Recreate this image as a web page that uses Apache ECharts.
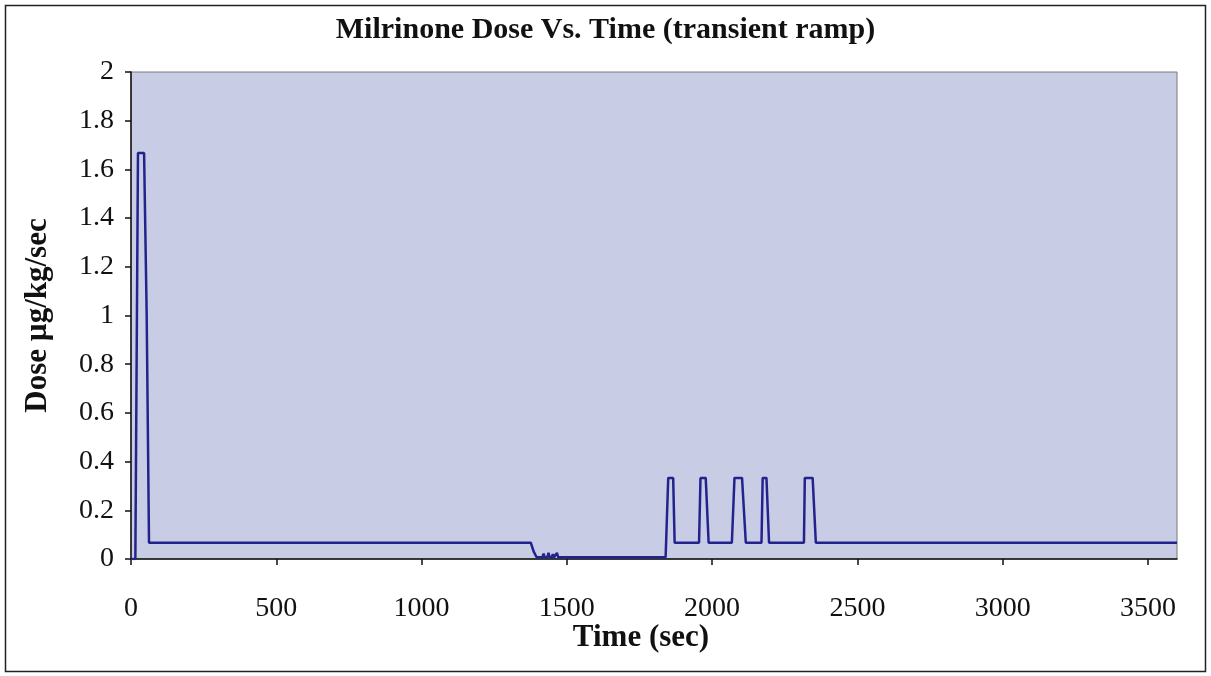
<!DOCTYPE html>
<html>
<head>
<meta charset="utf-8">
<title>Milrinone Dose Vs. Time</title>
<script src="https://cdn.jsdelivr.net/npm/echarts@6/dist/echarts.min.js"></script>
<style>
  html, body { margin: 0; padding: 0; background: #ffffff; }
  #chart { width: 1211px; height: 676px; }
</style>
</head>
<body>
<div id="chart"></div>
<script>
// Infusion schedule: time (s) and dose rate (µg/kg/sec)
const timeSec = [
  0, 15, 24, 45, 54, 62,
  1376, 1386, 1396, 1416, 1420, 1424, 1433, 1437, 1441, 1448, 1452, 1456, 1462, 1466, 1470,
  1840, 1849, 1866, 1871,
  1955, 1960, 1978, 1988,
  2068, 2077, 2103, 2116,
  2170, 2174, 2187, 2196,
  2316, 2319, 2346, 2357,
  3600
];
const doseRate = [
  0, 0, 1.667, 1.667, 1.0, 0.0667,
  0.0667, 0.03, 0.007, 0.007, 0.022, 0.007, 0.007, 0.025, 0.007, 0.007, 0.02, 0.007, 0.007, 0.025, 0.007,
  0.007, 0.333, 0.333, 0.0667,
  0.0667, 0.333, 0.333, 0.0667,
  0.0667, 0.333, 0.333, 0.0667,
  0.0667, 0.333, 0.333, 0.0667,
  0.0667, 0.333, 0.333, 0.0667,
  0.0667
];
const xTicks = [0, 500, 1000, 1500, 2000, 2500, 3000, 3500];
const yTicks = [0, 0.2, 0.4, 0.6, 0.8, 1, 1.2, 1.4, 1.6, 1.8, 2];

const chartTitle = 'Milrinone Dose Vs. Time (transient ramp)';
const xName = 'Time (sec)';
const yName = 'Dose µg/kg/sec';

const serif = '"Liberation Serif", "DejaVu Serif", serif';

const chart = echarts.init(document.getElementById('chart'), null, { renderer: 'canvas' });

chart.setOption({
  animation: false,
  backgroundColor: '#ffffff',
  title: {
    text: chartTitle,
    left: 'center',
    top: 10,
    textStyle: { fontFamily: serif, fontWeight: 'bold', fontSize: 30, color: '#111' }
  },
  grid: {
    left: 131, right: 34, top: 72, bottom: 117,
    show: true,
    backgroundColor: '#c8cce4',
    borderColor: '#7a7a7a',
    borderWidth: 1
  },
  xAxis: {
    type: 'value',
    min: 0, max: 3600, interval: 500,
    name: xName,
    nameLocation: 'middle',
    nameGap: 63,
    nameMoveOverlap: false,
    nameTextStyle: {
      fontFamily: serif, fontWeight: 'bold', fontSize: 31, color: '#111',
      padding: [0, 26, 0, 0]
    },
    axisLine: { show: true, onZero: false, lineStyle: { color: '#111', width: 1.5 } },
    axisTick: {
      show: true, inside: false, length: 6,
      customValues: xTicks,
      lineStyle: { color: '#111', width: 1.5 }
    },
    axisLabel: {
      margin: 36,
      fontFamily: serif, fontSize: 28, color: '#111',
      customValues: xTicks,
      formatter: v => String(v)
    },
    splitLine: { show: false }
  },
  yAxis: {
    type: 'value',
    min: 0, max: 2, interval: 0.2,
    name: yName,
    nameLocation: 'middle',
    nameGap: 78,
    nameTextStyle: { fontFamily: serif, fontWeight: 'bold', fontSize: 31, color: '#111' },
    axisLine: { show: true, lineStyle: { color: '#111', width: 1.5 } },
    axisTick: {
      show: true, inside: false, length: 6,
      customValues: yTicks,
      lineStyle: { color: '#111', width: 1.5 }
    },
    axisLabel: {
      margin: 17,
      fontFamily: serif, fontSize: 28, color: '#111',
      customValues: yTicks,
      formatter: v => String(+v.toFixed(1))
    },
    splitLine: { show: false }
  },
  series: [{
    type: 'line',
    data: timeSec.map((t, i) => [t, doseRate[i]]),
    showSymbol: false,
    symbol: 'none',
    lineStyle: { color: '#23238e', width: 2.5 },
    clip: true
  }],
  graphic: [{
    type: 'rect',
    shape: { x: 5.5, y: 5.5, width: 1200, height: 666 },
    style: { fill: 'none', stroke: '#222', lineWidth: 1.5 },
    silent: true
  }]
});
</script>
</body>
</html>
